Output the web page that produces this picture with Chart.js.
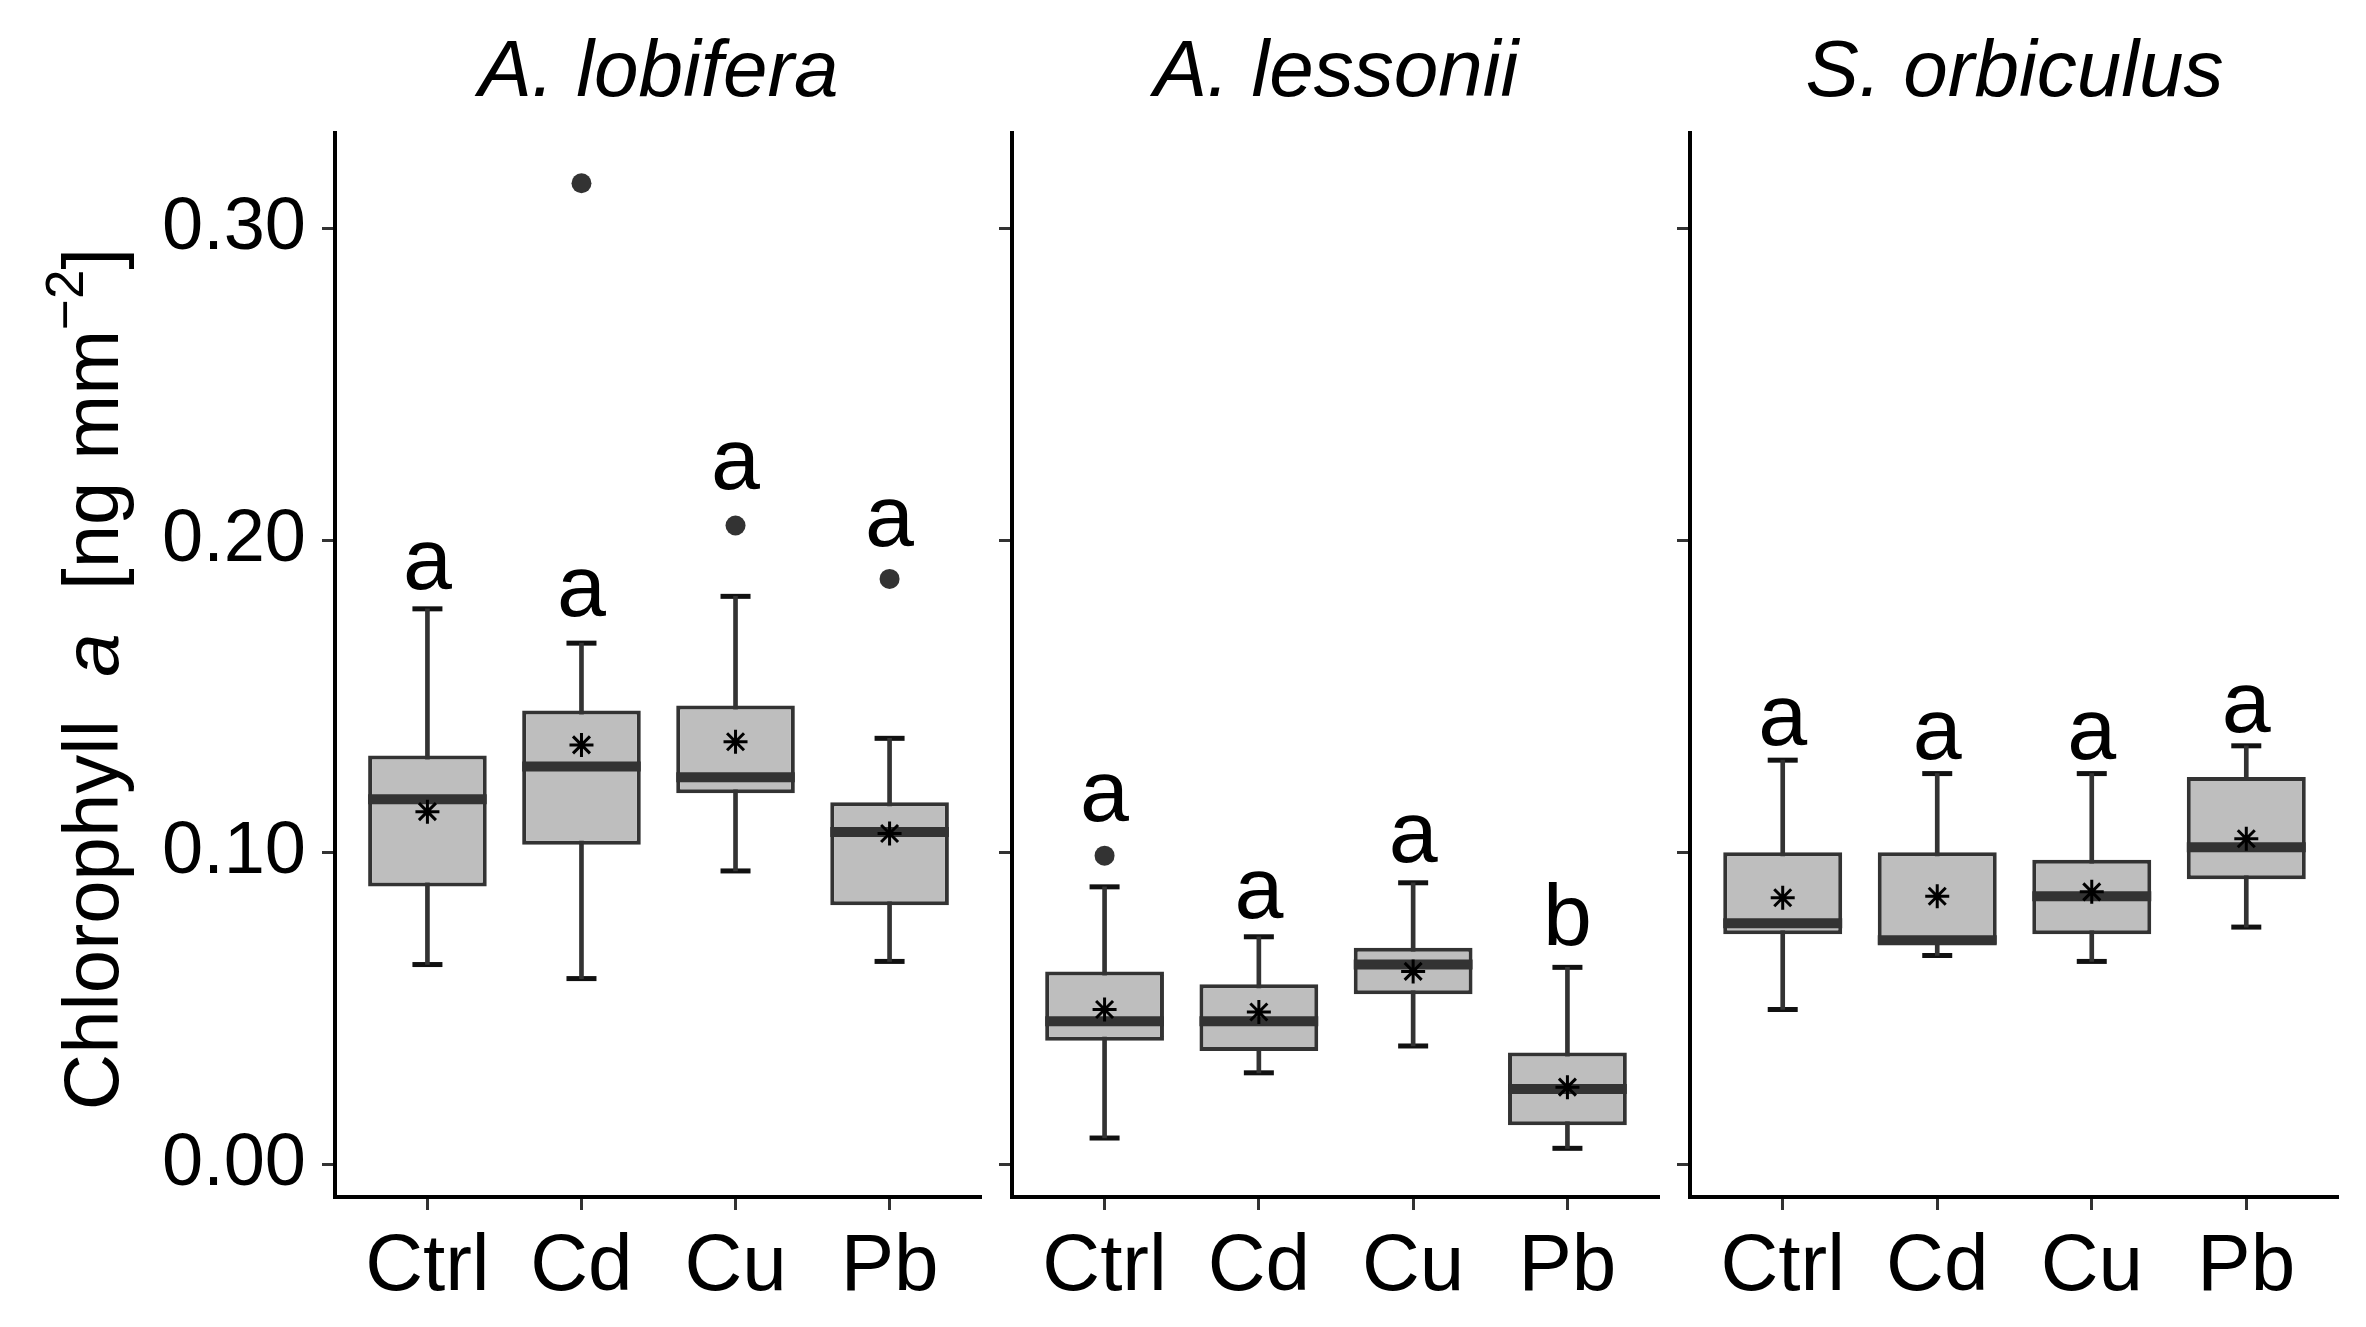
<!DOCTYPE html>
<html><head><meta charset="utf-8">
<script src="https://cdn.jsdelivr.net/npm/chart.js@4.4.1/dist/chart.umd.min.js"></script>
<style>
html,body{margin:0;padding:0;background:#fff;}
#wrap{position:relative;width:2366px;height:1327px;overflow:hidden;background:#fff;}
canvas{position:absolute;top:0;}
</style></head><body>
<div id="wrap">
<canvas id="c1" width="982" height="1327" style="left:0px"></canvas>
<canvas id="c2" width="678" height="1327" style="left:982px"></canvas>
<canvas id="c3" width="679" height="1327" style="left:1660px"></canvas>
</div>
<script>
// ---- data ----
const categories = ['Ctrl', 'Cd', 'Cu', 'Pb'];
const panelTitles = ['A. lobifera', 'A. lessonii', 'S. orbiculus'];
const yTicks = [0.00, 0.10, 0.20, 0.30];

// A. lobifera
const lobiferaLow    = [0.064, 0.0595, 0.094, 0.065];
const lobiferaQ1     = [0.089, 0.1024, 0.1189, 0.083];
const lobiferaMedian = [0.117, 0.1275, 0.124, 0.1065];
const lobiferaQ3     = [0.131, 0.1454, 0.147, 0.116];
const lobiferaHigh   = [0.178, 0.167, 0.182, 0.1365];
const lobiferaMean   = [0.113, 0.1344, 0.1354, 0.106];
const lobiferaOutliers = [[], [0.3144], [0.2047], [0.1876]];
const lobiferaLetters  = ['a', 'a', 'a', 'a'];
const lobiferaLetterY  = [0.1845, 0.1758, 0.2163, 0.198];

// A. lessonii
const lessoniiLow    = [0.0084, 0.0293, 0.0379, 0.0051];
const lessoniiQ1     = [0.0396, 0.0363, 0.0545, 0.0125];
const lessoniiMedian = [0.0458, 0.0458, 0.0640, 0.0241];
const lessoniiQ3     = [0.0618, 0.0577, 0.0694, 0.0358];
const lessoniiHigh   = [0.0889, 0.0729, 0.0902, 0.0631];
const lessoniiMean   = [0.0496, 0.0488, 0.0618, 0.0247];
const lessoniiOutliers = [[0.0989], [], [], []];
const lessoniiLetters  = ['a', 'a', 'a', 'b'];
const lessoniiLetterY  = [0.110, 0.0789, 0.097, 0.0702];

// S. orbiculus
const orbiculusLow    = [0.0496, 0.0669, 0.0650, 0.0760];
const orbiculusQ1     = [0.0737, 0.0705, 0.0737, 0.0913];
const orbiculusMedian = [0.0772, 0.0718, 0.0859, 0.1016];
const orbiculusQ3     = [0.100, 0.100, 0.0976, 0.1241];
const orbiculusHigh   = [0.1295, 0.1252, 0.1252, 0.1341];
const orbiculusMean   = [0.0854, 0.0859, 0.0873, 0.1043];
const orbiculusOutliers = [[], [], [], []];
const orbiculusLetters  = ['a', 'a', 'a', 'a'];
const orbiculusLetterY  = [0.1344, 0.1298, 0.1298, 0.1385];

// ---- styling ----
const FONT = "'Liberation Sans', Arial, Helvetica, sans-serif";
const BOX_PCT = 0.77;
const Y_MIN = -0.0105, Y_MAX = 0.3305;

const panels = [
  {title: panelTitles[0], low: lobiferaLow, q1: lobiferaQ1, med: lobiferaMedian, q3: lobiferaQ3, high: lobiferaHigh, mean: lobiferaMean, out: lobiferaOutliers, letters: lobiferaLetters, letterY: lobiferaLetterY},
  {title: panelTitles[1], low: lessoniiLow, q1: lessoniiQ1, med: lessoniiMedian, q3: lessoniiQ3, high: lessoniiHigh, mean: lessoniiMean, out: lessoniiOutliers, letters: lessoniiLetters, letterY: lessoniiLetterY},
  {title: panelTitles[2], low: orbiculusLow, q1: orbiculusQ1, med: orbiculusMedian, q3: orbiculusQ3, high: orbiculusHigh, mean: orbiculusMean, out: orbiculusOutliers, letters: orbiculusLetters, letterY: orbiculusLetterY}
];

const xy = arr => arr.map((v, i) => ({x: i, y: v}));
const halfBox = ctx => {
  const s = ctx.chart.scales.x;
  return (s.getPixelForValue(1) - s.getPixelForValue(0)) * BOX_PCT / 2;
};

const letterPlugin = {
  id: 'letters',
  afterDatasetsDraw(chart, args, opts) {
    const {ctx, scales: {x, y}} = chart;
    ctx.save();
    ctx.fillStyle = '#000';
    ctx.font = '88px ' + FONT;
    ctx.textAlign = 'center';
    ctx.textBaseline = 'alphabetic';
    opts.letters.forEach((t, i) => {
      ctx.fillText(t, x.getPixelForValue(i), y.getPixelForValue(opts.letterY[i]));
    });
    ctx.restore();
  }
};

const yTitlePlugin = {
  id: 'ytitle',
  afterDraw(chart, args, opts) {
    if (!opts.show) return;
    const {ctx, chartArea} = chart;
    const size = 78;
    const pieces = [
      {t: 'Chlorophyll  ', f: size + 'px ' + FONT, dy: 0},
      {t: 'a', f: 'italic ' + size + 'px ' + FONT, dy: 0},
      {t: '  [ng mm', f: size + 'px ' + FONT, dy: 0},
      {t: '\u22122', f: Math.round(size * 0.68) + 'px ' + FONT, dy: -size * 0.45},
      {t: ']', f: size + 'px ' + FONT, dy: 0}
    ];
    ctx.save();
    let total = 0;
    pieces.forEach(p => { ctx.font = p.f; p.w = ctx.measureText(p.t).width; total += p.w; });
    ctx.translate(chartArea.left - 217, (chartArea.top + chartArea.bottom) / 2 + 14);
    ctx.rotate(-Math.PI / 2);
    ctx.fillStyle = '#000';
    ctx.textBaseline = 'alphabetic';
    ctx.textAlign = 'left';
    let cx = -total / 2;
    pieces.forEach(p => { ctx.font = p.f; ctx.fillText(p.t, cx, p.dy); cx += p.w; });
    ctx.restore();
  }
};

function makePanel(id, p, first, axisWidth) {
  const outliers = [];
  p.out.forEach((arr, i) => arr.forEach(v => outliers.push({x: i, y: v})));
  return new Chart(document.getElementById(id), {
    type: 'bar',
    data: {
      datasets: [
        {type: 'bar', label: 'whisker', data: p.low.map((v, i) => ({x: i, y: [v, p.high[i]]})),
         backgroundColor: '#333333', borderWidth: 0, grouped: false, maxBarThickness: 4,
         categoryPercentage: 1, barPercentage: 1, order: 6},
        {type: 'line', label: 'capLow', data: xy(p.low), showLine: false, pointStyle: 'line',
         pointRadius: 15, pointBorderWidth: 5, pointBorderColor: '#111111', borderColor: '#111111', order: 7},
        {type: 'line', label: 'capHigh', data: xy(p.high), showLine: false, pointStyle: 'line',
         pointRadius: 15, pointBorderWidth: 5, pointBorderColor: '#111111', borderColor: '#111111', order: 7},
        {type: 'bar', label: 'box', data: p.q1.map((v, i) => ({x: i, y: [v, p.q3[i]]})),
         backgroundColor: '#bebebe', borderColor: '#333333', borderWidth: 4, borderSkipped: false,
         grouped: false, categoryPercentage: 1, barPercentage: BOX_PCT, order: 5},
        {type: 'line', label: 'median', data: xy(p.med), showLine: false, pointStyle: 'line',
         pointRadius: halfBox, pointBorderWidth: 10, pointBorderColor: '#333333', borderColor: '#333333', order: 3},
        {type: 'line', label: 'mean', data: xy(p.mean), showLine: false, pointStyle: 'star',
         pointRadius: 12, pointBorderWidth: 3, pointBorderColor: '#000000', borderColor: '#000000', order: 2},
        {type: 'line', label: 'outlier', data: outliers, showLine: false, pointStyle: 'circle',
         pointRadius: 10, pointBorderWidth: 0, pointBackgroundColor: '#333333', backgroundColor: '#333333', order: 1}
      ]
    },
    options: {
      responsive: false,
      animation: false,
      devicePixelRatio: 1,
      events: [],
      layout: {autoPadding: false, padding: 0},
      plugins: {
        legend: {display: false},
        tooltip: {enabled: false},
        title: {display: true, text: p.title, fullSize: false, color: '#000',
                font: {family: FONT, size: 80, style: 'italic', weight: 'normal', lineHeight: 1.2},
                padding: {top: 26, bottom: 11}},
        letters: {letters: p.letters, letterY: p.letterY},
        ytitle: {show: first}
      },
      scales: {
        x: {
          type: 'linear', min: -0.6, max: 3.6, offset: false,
          afterBuildTicks: s => { s.ticks = categories.map((c, i) => ({value: i})); },
          afterFit: s => { s.height = 130; s.paddingLeft = 0; s.paddingRight = 0; },
          grid: {display: true, drawOnChartArea: false, drawTicks: true, tickLength: 13, tickWidth: 3, tickColor: '#333333', offset: false},
          border: {display: true, color: '#000', width: 4},
          ticks: {color: '#000', padding: 10, maxRotation: 0, autoSkip: false,
                  font: {family: FONT, size: 80, lineHeight: 1.2},
                  callback: v => categories[v] !== undefined ? categories[v] : ''}
        },
        y: {
          type: 'linear', min: Y_MIN, max: Y_MAX, beginAtZero: false,
          afterBuildTicks: s => { s.ticks = yTicks.map(v => ({value: v})); },
          afterFit: s => { s.width = axisWidth; s.paddingTop = 0; s.paddingBottom = 0; },
          grid: {display: true, drawOnChartArea: false, drawTicks: true, tickLength: 13, tickWidth: 3, tickColor: '#333333'},
          border: {display: true, color: '#000', width: 4},
          ticks: {display: first, color: '#000', padding: 16,
                  font: {family: FONT, size: 74, lineHeight: 1.2},
                  callback: v => Number(v).toFixed(2)}
        }
      }
    },
    plugins: [letterPlugin, yTitlePlugin]
  });
}

makePanel('c1', panels[0], true, 335);
makePanel('c2', panels[1], false, 30);
makePanel('c3', panels[2], false, 30);
</script>
</body></html>
